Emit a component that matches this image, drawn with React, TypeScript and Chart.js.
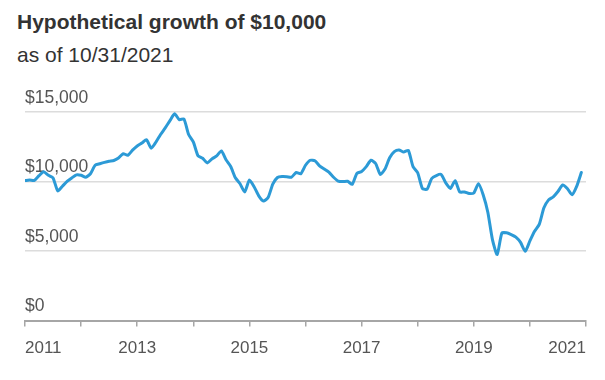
import React, { useEffect, useRef } from "react";
import { Chart, registerables } from "chart.js";

Chart.register(...registerables);

const TITLE = "Hypothetical growth of $10,000";
const SUBTITLE = "as of 10/31/2021";

// Month index 0 = start of 2011 axis; 120 months shown
const GROWTH_VALUES: number[] = [
  10070, 10110, 10080, 10420, 10700, 10450, 10260, 9330, 9660, 10010,
  10260, 10480, 10450, 10310, 10560, 11170, 11280, 11380, 11460, 11510,
  11690, 12000, 11890, 12260, 12560, 12770, 13000, 12400, 12830, 13380,
  13860, 14380, 14870, 14450, 14500, 13380, 12850, 11860, 11670, 11340,
  11630, 11840, 12200, 11560, 11080, 10270, 9840, 9250, 10110, 9630,
  8970, 8600, 8850, 9810, 10290, 10360, 10350, 10310, 10650, 10560,
  11170, 11530, 11490, 11130, 10900, 10670, 10310, 10030, 10000, 10020,
  9800, 10590, 10720, 11070, 11530, 11300, 10510, 10900, 11710, 12150,
  12270, 12120, 12240, 11070, 10630, 9500, 9450, 10220, 10430, 10510,
  9900, 9500, 10060, 9250, 9250, 9140, 9180, 9850, 9050, 7790,
  5800, 4750, 6290, 6310, 6180, 6000, 5620, 4980, 5730, 6420,
  6920, 8110, 8680, 8900, 9280, 9750, 9500, 9050, 9650, 10650,
];

const Y_TICKS: number[] = [0, 5000, 10000, 15000];
const X_YEARS: string[] = ["2011", "2012", "2013", "2014", "2015", "2016", "2017", "2018", "2019", "2020", "2021"];
const X_LABELED: string[] = ["2011", "2013", "2015", "2017", "2019", "2021"];

const FONT = "'Liberation Sans', Arial, Helvetica, sans-serif";

export default function App() {
  const canvasRef = useRef<HTMLCanvasElement | null>(null);

  useEffect(() => {
    if (!canvasRef.current) return;
    const data = GROWTH_VALUES.map((v, i) => ({ x: i, y: v }));
    const chart = new Chart(canvasRef.current, {
      type: "line",
      data: {
        datasets: [
          {
            data,
            borderColor: "#2c9ad6",
            borderWidth: 3,
            pointRadius: 0,
            tension: 0.2,
            fill: false,
            borderJoinStyle: "round",
            borderCapStyle: "round",
          },
        ],
      },
      options: {
        animation: false,
        responsive: false,
        maintainAspectRatio: false,
        layout: { padding: { left: 25, right: 19, top: 42, bottom: 9 } },
        plugins: { legend: { display: false }, tooltip: { enabled: false }, title: { display: false } },
        scales: {
          x: {
            type: "linear",
            min: 0,
            max: (X_YEARS.length - 1) * 12,
            afterBuildTicks: (axis: any) => {
              axis.ticks = X_YEARS.map((_, i) => ({ value: i * 12 }));
            },
            grid: {
              drawOnChartArea: false,
              drawTicks: true,
              tickLength: 6,
              color: "#a6a6a6",
              lineWidth: 1.5,
            },
            border: { display: true, color: "#a6a6a6", width: 2 },
            ticks: {
              autoSkip: false,
              maxRotation: 0,
              align: "inner",
              padding: 12,
              color: "#555555",
              font: { family: FONT, size: 17 },
              callback: (value: any) => {
                const y = X_YEARS[Math.round(Number(value) / 12)];
                return X_LABELED.includes(y) ? y : "";
              },
            },
          },
          y: {
            min: Y_TICKS[0],
            max: Y_TICKS[Y_TICKS.length - 1],
            afterBuildTicks: (axis: any) => {
              axis.ticks = Y_TICKS.map((v) => ({ value: v }));
            },
            grid: { drawTicks: false, color: "#dcdcdc", lineWidth: 1.5 },
            border: { display: false },
            ticks: {
              mirror: true,
              padding: 0,
              labelOffset: -14,
              color: "#555555",
              font: { family: FONT, size: 17.5 },
              callback: (value: any) => "$" + Number(value).toLocaleString("en-US"),
            },
          },
        },
      },
    } as any);
    return () => chart.destroy();
  }, []);

  return (
    <div style={{ position: "absolute", left: 0, top: 0, width: 605, height: 380, background: "#fff" }}>
      <div
        style={{
          position: "absolute",
          left: 17,
          top: 12,
          fontFamily: FONT,
          fontWeight: "bold",
          fontSize: 21,
          lineHeight: "20px",
          color: "#333333",
          whiteSpace: "nowrap",
        }}
      >
        {TITLE}
      </div>
      <div
        style={{
          position: "absolute",
          left: 17,
          top: 45,
          fontFamily: FONT,
          fontSize: 21,
          lineHeight: "20px",
          color: "#333333",
          whiteSpace: "nowrap",
        }}
      >
        {SUBTITLE}
      </div>
      <canvas
        ref={canvasRef}
        width={605}
        height={310}
        style={{ position: "absolute", left: 0, top: 70, width: 605, height: 310 }}
      />
    </div>
  );
}
